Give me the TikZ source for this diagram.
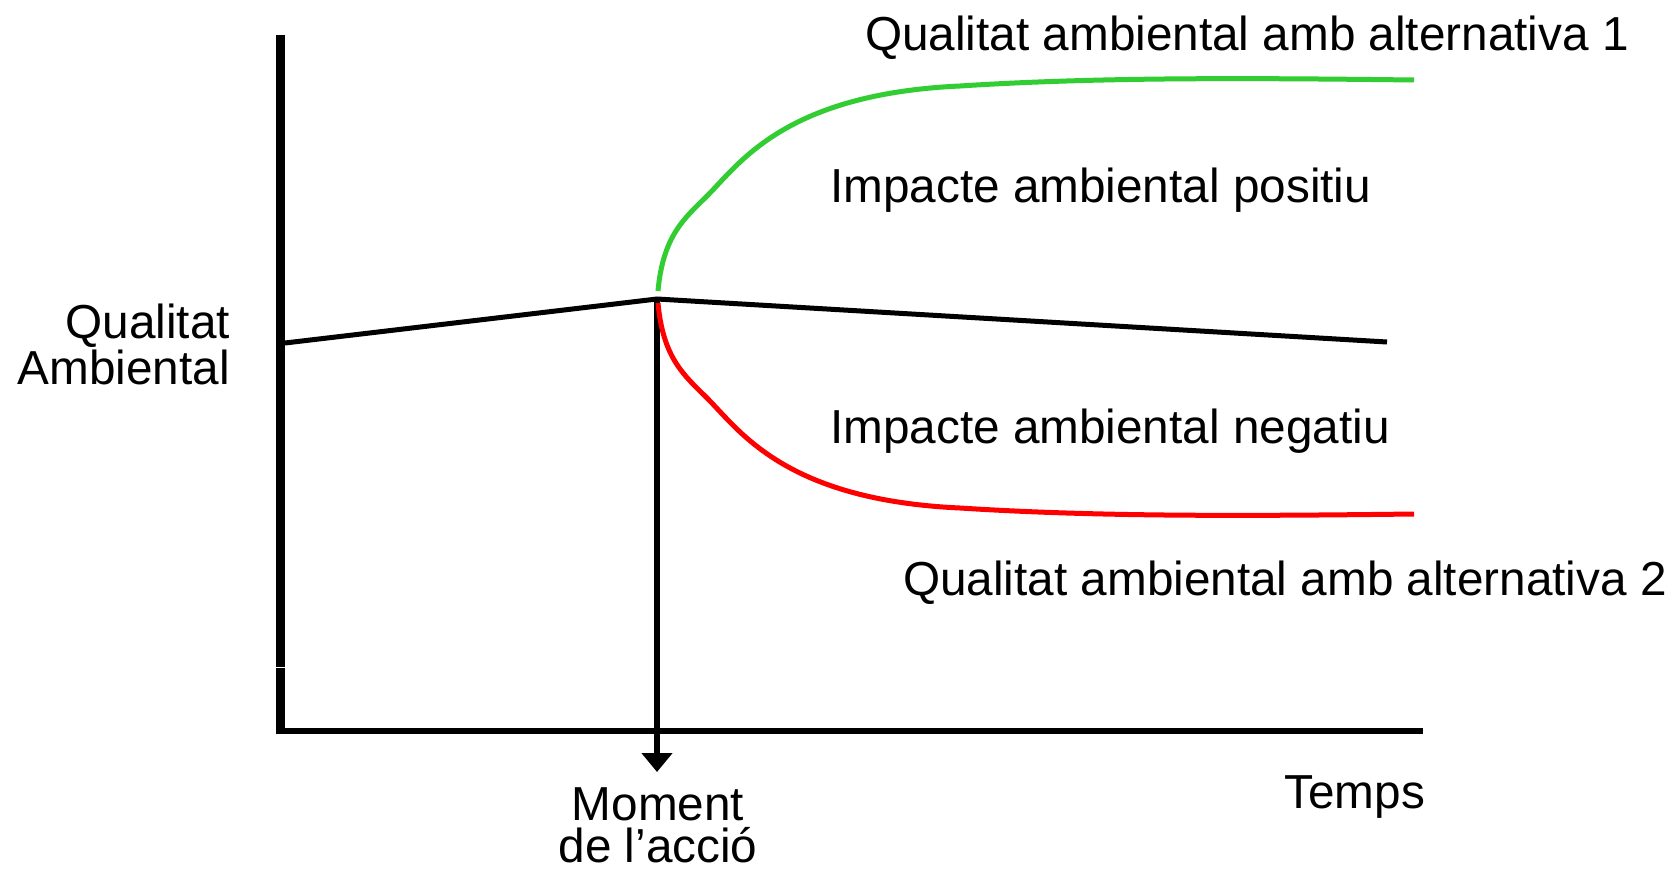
\documentclass[tikz,border=0pt]{standalone}
\usepackage{fontspec}
\setmainfont{Liberation Sans}
\usetikzlibrary{arrows.meta}
\definecolor{curvegreen}{RGB}{50,205,50}
\definecolor{curvered}{RGB}{255,0,0}
\tikzset{
  lbl/.style={inner sep=0pt, font=\fontsize{47.7}{46}\selectfont, text=black},
  axisline/.style={draw=black, line width=6pt},
  curveline/.style={line width=5pt, line cap=butt},
}
\begin{document}
\begin{tikzpicture}[x=1pt,y=-1pt]
\useasboundingbox[fill=white] (0,0) rectangle (1680,872);
% coordinates
\coordinate (ytop) at (280.5,35);
\coordinate (ygapa) at (280.5,666.5);
\coordinate (ygapb) at (280.5,667.5);
\coordinate (origin) at (280.5,730.5);
\coordinate (xleft) at (276,730.5);
\coordinate (xend) at (1423,730.5);
\coordinate (base0) at (285,343);
\coordinate (peak) at (657,299);
\coordinate (base1) at (1387,342);
\coordinate (arrowtip) at (657,772);
\coordinate (gstart) at (658,291);
\coordinate (rstart) at (658,303);
% axes
\draw[line width=9pt] (ytop) -- (ygapa);
\draw[line width=9pt] (ygapb) -- ([yshift=2.5pt]origin);
\draw[axisline] (xleft) -- (xend);
% baseline quality
\draw[curveline, black, line join=miter] (base0) -- (peak) -- (base1);
% moment arrow
\draw[line width=5.5pt, -{Triangle[width=30pt,length=19pt]}] (peak) -- (arrowtip);
% green curve
\draw[curveline, curvegreen] (gstart) .. controls (663,235) and (685,218) .. (707,196)
  .. controls (740,163) and (785,94) .. (960,86)
  .. controls (1100,77) and (1250,78) .. (1414,80);
% red curve
\draw[curveline, curvered] (rstart) .. controls (663,359) and (685,376) .. (707,398)
  .. controls (740,431) and (785,500) .. (960,508)
  .. controls (1100,517) and (1250,516) .. (1414,514);
% labels
\node[lbl, anchor=base west] (alt1) at (865,50.5) {Qualitat ambiental amb alternativa 1};
\node[lbl, anchor=base west] (pos) at (830,202.5) {Impacte ambiental positiu};
\node[lbl, anchor=base west] (neg) at (830,443.5) {Impacte ambiental negatiu};
\node[lbl, anchor=base west] (alt2) at (903,595.5) {Qualitat ambiental amb alternativa 2};
\node[lbl, anchor=base east] (temps) at (1425,808) {Temps};
\node[lbl, anchor=base] (moment1) at (658,820) {Moment};
\node[lbl, anchor=base] (moment2) at (658,862) {de l’acció};
\node[lbl, anchor=base east] (qa1) at (230,338.5) {Qualitat};
\node[lbl, anchor=base east] (qa2) at (230,384.5) {Ambiental};
\end{tikzpicture}
\end{document}
